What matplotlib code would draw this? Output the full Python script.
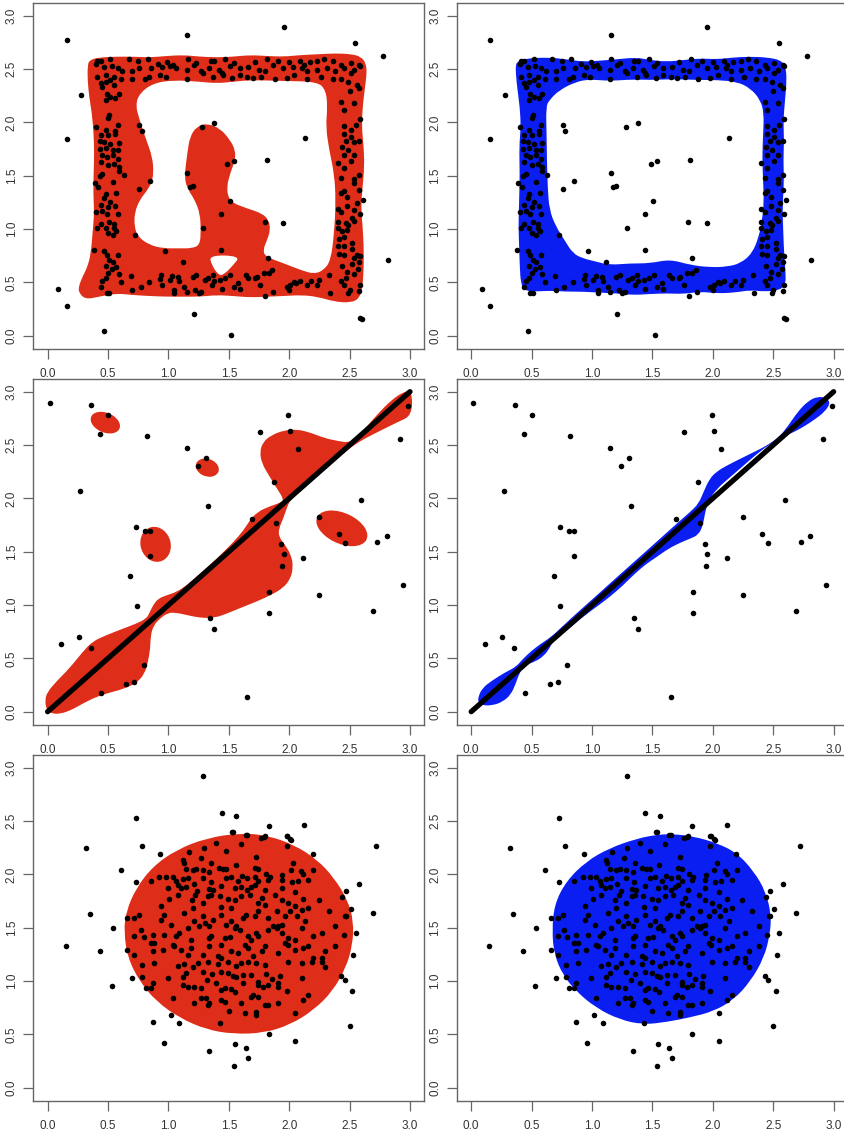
import numpy as np
import matplotlib
matplotlib.use("Agg")
import matplotlib.pyplot as plt
from matplotlib.path import Path
from matplotlib.patches import PathPatch, Ellipse

plt.rcParams['font.family'] = ['Liberation Sans', 'DejaVu Sans']

RED = '#DE2D18'
BLUE = '#0A1EF2'

tick_values = [0.0, 0.5, 1.0, 1.5, 2.0, 2.5, 3.0]
tick_labels = ['0.0', '0.5', '1.0', '1.5', '2.0', '2.5', '3.0']

# ---------------- Row 1 : square frame data ----------------
frame_outliers = [(0.158, 2.77), (1.158, 2.82), (1.955, 2.89), (2.547, 2.74), (2.78, 2.62),
                  (0.278, 2.26), (0.158, 1.84), (0.086, 0.44), (0.158, 0.28), (0.467, 0.04),
                  (1.208, 0.20), (1.519, 0.01), (2.586, 0.17), (2.605, 0.16), (2.815, 0.71),
                  (2.13, 1.85)]
frame_inner = [(0.758, 1.98), (0.778, 1.92), (1.278, 1.96), (1.378, 1.99), (1.489, 1.61),
               (1.539, 1.64), (1.815, 1.65), (1.158, 1.53), (0.847, 1.45), (0.758, 1.38),
               (1.175, 1.39), (1.2, 1.40), (1.507, 1.26), (1.438, 1.14), (1.796, 1.07),
               (1.949, 1.06), (1.288, 1.01), (0.969, 0.79), (1.438, 0.80), (1.826, 0.73),
               (0.727, 0.94), (1.119, 0.69)]
frame_top = [(0.41, 2.58), (0.44, 2.58), (0.52, 2.59), (0.67, 2.59), (0.75, 2.58), (0.83, 2.59),
             (0.91, 2.55), (0.99, 2.57), (1.04, 2.54), (1.16, 2.59), (1.23, 2.56), (1.35, 2.58),
             (1.38, 2.58), (1.47, 2.59), (1.54, 2.56), (1.72, 2.57), (1.82, 2.59), (1.91, 2.58),
             (2.00, 2.57), (2.09, 2.58), (2.12, 2.54), (2.17, 2.57), (2.23, 2.58), (2.29, 2.59),
             (2.36, 2.58), (2.43, 2.54), (2.51, 2.56), (2.58, 2.54),
             (0.40, 2.55), (0.47, 2.52), (0.53, 2.53), (0.58, 2.51), (0.62, 2.48), (0.70, 2.48),
             (0.76, 2.51), (0.86, 2.51), (0.95, 2.52), (1.01, 2.53), (1.06, 2.51), (1.15, 2.49),
             (1.21, 2.54), (1.27, 2.48), (1.34, 2.51), (1.42, 2.49), (1.44, 2.46), (1.51, 2.53),
             (1.59, 2.51), (1.66, 2.52), (1.75, 2.49), (1.80, 2.48), (1.87, 2.54), (1.95, 2.51),
             (2.03, 2.52), (2.11, 2.51), (2.15, 2.48), (2.23, 2.49), (2.31, 2.51), (2.38, 2.48),
             (2.45, 2.51), (2.54, 2.49), (2.59, 2.53),
             (0.41, 2.43), (0.48, 2.44), (0.55, 2.43), (0.61, 2.41), (0.70, 2.41), (0.81, 2.41),
             (0.84, 2.43), (0.93, 2.44), (0.98, 2.43), (1.15, 2.41), (1.29, 2.46), (1.37, 2.43),
             (1.45, 2.44), (1.53, 2.42), (1.59, 2.44), (1.65, 2.43), (1.70, 2.42), (1.77, 2.43),
             (1.88, 2.41), (1.98, 2.42), (2.04, 2.44), (2.15, 2.41), (2.26, 2.43), (2.36, 2.41),
             (2.43, 2.41), (2.51, 2.46)]
frame_left = [(0.44, 2.37), (0.45, 2.33), (0.48, 2.38), (0.52, 2.40), (0.55, 2.35), (0.49, 2.27),
              (0.52, 2.24), (0.56, 2.23), (0.59, 2.27), (0.48, 2.21), (0.51, 2.07), (0.50, 2.04),
              (0.58, 1.98), (0.40, 1.96), (0.48, 1.93), (0.56, 1.92),
              (0.44, 1.88), (0.50, 1.88), (0.56, 1.89), (0.43, 1.83), (0.47, 1.82), (0.52, 1.80),
              (0.59, 1.81), (0.43, 1.75), (0.48, 1.76), (0.54, 1.74), (0.58, 1.74), (0.45, 1.69),
              (0.49, 1.68), (0.54, 1.69), (0.58, 1.66), (0.44, 1.63), (0.50, 1.60), (0.55, 1.61),
              (0.59, 1.58), (0.45, 1.52), (0.43, 1.50), (0.59, 1.54), (0.63, 1.51), (0.54, 1.44),
              (0.39, 1.43), (0.42, 1.39), (0.48, 1.33), (0.57, 1.34), (0.47, 1.29), (0.52, 1.25),
              (0.44, 1.23), (0.50, 1.21), (0.56, 1.22), (0.40, 1.16), (0.45, 1.17), (0.49, 1.14),
              (0.58, 1.14), (0.51, 1.07), (0.44, 1.05), (0.55, 1.05),
              (0.41, 1.01), (0.48, 1.01), (0.55, 1.01), (0.50, 0.96), (0.54, 0.94), (0.57, 0.98),
              (0.38, 0.80), (0.47, 0.79), (0.49, 0.76), (0.58, 0.76), (0.51, 0.71), (0.54, 0.69),
              (0.48, 0.65), (0.53, 0.63), (0.57, 0.64), (0.50, 0.59), (0.59, 0.58), (0.69, 0.56),
              (0.48, 0.54), (0.45, 0.51), (0.61, 0.50), (0.44, 0.46), (0.49, 0.40), (0.51, 0.40)]
frame_right = [(2.49, 2.38), (2.56, 2.35), (2.58, 2.32), (2.50, 2.29), (2.43, 2.19), (2.54, 2.18),
               (2.45, 2.12), (2.59, 2.03), (2.55, 1.98), (2.45, 1.97), (2.51, 1.93),
               (2.45, 1.89), (2.51, 1.86), (2.47, 1.83), (2.54, 1.82), (2.58, 1.83), (2.44, 1.77),
               (2.49, 1.74), (2.54, 1.69), (2.45, 1.69), (2.51, 1.64), (2.40, 1.62), (2.45, 1.57),
               (2.58, 1.51), (2.43, 1.48), (2.54, 1.47), (2.54, 1.43), (2.45, 1.36), (2.43, 1.34),
               (2.58, 1.37), (2.48, 1.30), (2.61, 1.27), (2.56, 1.24), (2.48, 1.22), (2.40, 1.19),
               (2.43, 1.16), (2.54, 1.18), (2.59, 1.14), (2.52, 1.10), (2.40, 1.07), (2.47, 1.06),
               (2.54, 1.08), (2.49, 1.04),
               (2.40, 1.01), (2.44, 0.98), (2.48, 0.99), (2.41, 0.91), (2.45, 0.93), (2.52, 0.87),
               (2.40, 0.84), (2.45, 0.84), (2.52, 0.81), (2.41, 0.77), (2.45, 0.76), (2.56, 0.76),
               (2.59, 0.75), (2.54, 0.73), (2.58, 0.69), (2.52, 0.67), (2.44, 0.65), (2.57, 0.63),
               (2.48, 0.60), (2.54, 0.58), (2.33, 0.57), (2.47, 0.54), (2.43, 0.51), (2.45, 0.48),
               (2.59, 0.48), (2.50, 0.43), (2.58, 0.42), (2.34, 0.40), (2.49, 0.40)]
frame_bottom = [(0.70, 0.43), (0.77, 0.46), (0.84, 0.50), (0.94, 0.57), (0.93, 0.53), (0.95, 0.48),
                (1.01, 0.52), (1.03, 0.56), (1.05, 0.43), (1.05, 0.40), (1.08, 0.55), (1.09, 0.51),
                (1.13, 0.46), (1.15, 0.41), (1.20, 0.55), (1.22, 0.43), (1.23, 0.57), (1.25, 0.40),
                (1.27, 0.41), (1.30, 0.52), (1.33, 0.54), (1.36, 0.48), (1.37, 0.57), (1.38, 0.51),
                (1.43, 0.52), (1.44, 0.44), (1.47, 0.54), (1.51, 0.57), (1.54, 0.46), (1.58, 0.49),
                (1.59, 0.44), (1.64, 0.57), (1.66, 0.54), (1.72, 0.54), (1.73, 0.55), (1.76, 0.48),
                (1.79, 0.59), (1.80, 0.37), (1.83, 0.59), (1.86, 0.62), (1.87, 0.41), (1.98, 0.46),
                (2.00, 0.43), (2.01, 0.48), (2.04, 0.50), (2.06, 0.49), (2.09, 0.51), (2.15, 0.48),
                (2.18, 0.51), (2.23, 0.48), (2.25, 0.52)]

# Row 1 level-set outlines
red_frame_outer = [(0.344, 2.584), (0.428, 2.609), (0.567, 2.616), (0.706, 2.616), (0.844, 2.609),
                   (0.983, 2.622), (1.122, 2.631), (1.261, 2.616), (1.4, 2.609), (1.539, 2.616),
                   (1.678, 2.631), (1.817, 2.622), (1.956, 2.616), (2.094, 2.631), (2.233, 2.638),
                   (2.372, 2.647), (2.511, 2.641), (2.594, 2.616), (2.636, 2.553), (2.642, 2.459),
                   (2.628, 2.334), (2.608, 2.147), (2.6, 1.959), (2.617, 1.772), (2.622, 1.584),
                   (2.608, 1.397), (2.594, 1.209), (2.608, 1.022), (2.617, 0.834), (2.617, 0.647),
                   (2.608, 0.459), (2.581, 0.35), (2.511, 0.309), (2.372, 0.319), (2.233, 0.366),
                   (2.094, 0.381), (1.956, 0.372), (1.817, 0.366), (1.678, 0.359), (1.539, 0.372),
                   (1.4, 0.381), (1.261, 0.366), (1.122, 0.366), (0.983, 0.366), (0.844, 0.372),
                   (0.706, 0.381), (0.567, 0.397), (0.428, 0.366), (0.317, 0.341), (0.261, 0.397),
                   (0.256, 0.459), (0.289, 0.553), (0.331, 0.647), (0.358, 0.772), (0.372, 0.959),
                   (0.386, 1.147), (0.378, 1.334), (0.381, 1.522), (0.386, 1.709), (0.381, 1.897),
                   (0.367, 2.084), (0.344, 2.241), (0.331, 2.397), (0.331, 2.522)]
red_frame_hole = [(0.761, 2.272), (0.872, 2.366), (1.039, 2.397), (1.261, 2.381), (1.4, 2.366),
                  (1.539, 2.381), (1.678, 2.397), (1.956, 2.388), (2.233, 2.381), (2.303, 2.303),
                  (2.317, 2.147), (2.303, 1.959), (2.331, 1.741), (2.372, 1.522), (2.386, 1.272),
                  (2.372, 0.959), (2.344, 0.709), (2.289, 0.616), (2.206, 0.578), (2.094, 0.616),
                  (1.956, 0.678), (1.803, 0.741), (1.783, 0.803), (1.817, 0.897), (1.844, 0.991),
                  (1.831, 1.084), (1.775, 1.147), (1.65, 1.194), (1.539, 1.241), (1.497, 1.288),
                  (1.483, 1.397), (1.511, 1.522), (1.553, 1.647), (1.553, 1.741), (1.511, 1.834),
                  (1.428, 1.944), (1.317, 1.991), (1.233, 1.959), (1.178, 1.866), (1.156, 1.709),
                  (1.131, 1.475), (1.164, 1.366), (1.219, 1.272), (1.261, 1.147), (1.269, 0.991),
                  (1.261, 0.85), (1.192, 0.819), (1.094, 0.819), (0.956, 0.819), (0.844, 0.85),
                  (0.747, 0.928), (0.719, 1.022), (0.719, 1.147), (0.761, 1.272), (0.817, 1.35),
                  (0.858, 1.428), (0.878, 1.522), (0.867, 1.678), (0.817, 1.834), (0.761, 2.022),
                  (0.728, 2.163)]
red_frame_small_hole = [(1.339, 0.756), (1.594, 0.747), (1.539, 0.663), (1.456, 0.569),
                        (1.414, 0.569), (1.358, 0.663)]
blue_frame_outer = [(0.383, 2.569), (0.452, 2.6), (0.647, 2.609), (0.785, 2.591), (0.924, 2.569),
                    (1.063, 2.578), (1.202, 2.591), (1.368, 2.609), (1.479, 2.584), (1.618, 2.569),
                    (1.757, 2.584), (1.896, 2.6), (2.034, 2.591), (2.173, 2.609), (2.312, 2.616),
                    (2.451, 2.609), (2.562, 2.584), (2.603, 2.522), (2.612, 2.397), (2.598, 2.209),
                    (2.584, 2.022), (2.59, 1.834), (2.584, 1.647), (2.59, 1.428), (2.576, 1.209),
                    (2.584, 0.959), (2.59, 0.772), (2.603, 0.584), (2.603, 0.491), (2.562, 0.428),
                    (2.423, 0.413), (2.312, 0.428), (2.173, 0.403), (2.034, 0.397), (1.896, 0.413),
                    (1.757, 0.391), (1.618, 0.397), (1.479, 0.391), (1.341, 0.381), (1.202, 0.397),
                    (1.063, 0.403), (0.924, 0.413), (0.785, 0.413), (0.647, 0.422), (0.508, 0.413),
                    (0.439, 0.428), (0.411, 0.491), (0.402, 0.647), (0.397, 0.834), (0.391, 1.022),
                    (0.397, 1.272), (0.402, 1.522), (0.397, 1.772), (0.411, 1.959), (0.402, 2.147),
                    (0.383, 2.303), (0.369, 2.459), (0.369, 2.538)]
blue_frame_hole = [(0.619, 2.147), (0.647, 2.209), (0.73, 2.303), (0.869, 2.381), (0.98, 2.403),
                   (1.146, 2.388), (1.341, 2.403), (1.479, 2.397), (1.618, 2.403), (1.757, 2.403),
                   (1.896, 2.397), (2.034, 2.397), (2.201, 2.381), (2.312, 2.319), (2.395, 2.209),
                   (2.423, 2.084), (2.417, 1.897), (2.409, 1.678), (2.417, 1.428), (2.423, 1.272),
                   (2.409, 1.084), (2.381, 0.928), (2.326, 0.772), (2.229, 0.678), (2.118, 0.647),
                   (1.979, 0.641), (1.812, 0.663), (1.646, 0.716), (1.479, 0.678), (1.313, 0.678),
                   (1.146, 0.663), (1.035, 0.694), (0.924, 0.725), (0.841, 0.772), (0.772, 0.897),
                   (0.702, 1.022), (0.647, 1.178), (0.633, 1.397), (0.627, 1.647), (0.624, 1.897)]

# ---------------- Row 2 : diagonal data ----------------
diag_points = [(0.019, 2.89), (0.361, 2.878), (0.503, 2.784), (0.433, 2.60), (0.819, 2.584),
               (0.272, 2.066), (1.15, 2.475), (1.308, 2.378), (1.242, 2.303), (1.325, 1.931),
               (0.731, 1.734), (0.808, 1.694), (0.85, 1.697), (0.85, 1.456), (0.683, 1.275),
               (0.739, 0.994), (0.114, 0.631), (0.256, 0.697), (0.356, 0.597), (0.444, 0.175),
               (0.65, 0.256), (0.717, 0.275), (0.794, 0.441), (1.344, 0.875), (1.378, 0.778),
               (1.653, 0.134), (1.758, 2.622), (1.992, 2.781), (2.008, 2.631), (2.072, 2.466),
               (1.878, 2.156), (1.692, 1.803), (1.892, 1.769), (1.933, 1.569), (1.953, 1.478),
               (1.942, 1.3625), (2.114, 1.4375), (1.836, 1.119), (1.833, 0.928), (2.25, 1.828),
               (2.411, 1.6625), (2.461, 1.584), (2.594, 1.984), (2.728, 1.5875), (2.808, 1.65),
               (2.914, 2.556), (2.983, 2.8625), (2.939, 1.184), (2.692, 0.941), (2.247, 1.094)]
diag_line_x = [0.0, 3.0]
diag_line_y = [0.0, 3.0]
red_diag_band = [(-0.022, 0.106), (-0.003, 0.184), (0.081, 0.294), (0.178, 0.403), (0.289, 0.559),
                 (0.372, 0.659), (0.483, 0.716), (0.622, 0.778), (0.733, 0.825), (0.817, 0.872),
                 (0.844, 0.928), (0.872, 0.997), (0.914, 1.059), (0.983, 1.091), (1.067, 1.122),
                 (1.15, 1.184), (1.261, 1.294), (1.4, 1.434), (1.539, 1.591), (1.622, 1.70),
                 (1.664, 1.778), (1.733, 1.872), (1.844, 1.928), (1.928, 1.959), (1.956, 1.988),
                 (1.90, 2.09), (1.831, 2.216), (1.775, 2.325), (1.756, 2.434), (1.783, 2.528),
                 (1.85, 2.591), (1.956, 2.638), (2.067, 2.647), (2.178, 2.616), (2.289, 2.566),
                 (2.40, 2.538), (2.497, 2.522), (2.567, 2.575), (2.65, 2.684), (2.747, 2.809),
                 (2.844, 2.919), (2.942, 2.997), (3.017, 3.012), (3.017, 2.778), (2.90, 2.716),
                 (2.761, 2.638), (2.622, 2.559), (2.525, 2.491), (2.428, 2.403), (2.317, 2.294),
                 (2.206, 2.184), (2.094, 2.075), (2.006, 1.981), (1.978, 1.903), (1.95, 1.809),
                 (1.914, 1.716), (1.914, 1.638), (1.969, 1.559), (2.017, 1.466), (2.033, 1.356),
                 (2.011, 1.247), (1.95, 1.159), (1.844, 1.091), (1.733, 1.034), (1.594, 0.972),
                 (1.483, 0.919), (1.386, 0.881), (1.275, 0.878), (1.164, 0.903), (1.067, 0.928),
                 (0.997, 0.928), (0.928, 0.872), (0.878, 0.809), (0.853, 0.716), (0.85, 0.591),
                 (0.831, 0.466), (0.803, 0.356), (0.739, 0.272), (0.636, 0.216), (0.511, 0.178),
                 (0.40, 0.138), (0.289, 0.075), (0.192, 0.013), (0.108, -0.019), (0.039, -0.019),
                 (-0.008, 0.013)]
# islands: (center x, center y, width, height, angle)
red_diag_islands = [(0.478, 2.71, 0.26, 0.18, -30), (1.322, 2.288, 0.20, 0.16, -30),
                    (0.894, 1.569, 0.25, 0.33, 10), (2.436, 1.719, 0.46, 0.28, -30)]
blue_diag_band = [(0.058, 0.138), (0.092, 0.222), (0.175, 0.294), (0.286, 0.372), (0.369, 0.419),
                  (0.425, 0.491), (0.494, 0.566), (0.577, 0.638), (0.661, 0.70), (0.758, 0.803),
                  (0.869, 0.919), (1.008, 1.059), (1.146, 1.20), (1.285, 1.341), (1.424, 1.481),
                  (1.563, 1.622), (1.701, 1.763), (1.812, 1.872), (1.882, 1.95), (1.923, 2.059),
                  (1.973, 2.184), (2.034, 2.253), (2.118, 2.309), (2.229, 2.372), (2.34, 2.434),
                  (2.451, 2.497), (2.548, 2.575), (2.617, 2.669), (2.701, 2.809), (2.784, 2.909),
                  (2.867, 2.956), (2.945, 2.941), (2.973, 2.888), (2.923, 2.809), (2.853, 2.747),
                  (2.77, 2.684), (2.673, 2.622), (2.576, 2.575), (2.479, 2.513), (2.367, 2.419),
                  (2.256, 2.309), (2.145, 2.20), (2.034, 2.091), (1.965, 1.981), (1.937, 1.872),
                  (1.918, 1.747), (1.882, 1.659), (1.812, 1.622), (1.729, 1.584), (1.632, 1.528),
                  (1.535, 1.45), (1.452, 1.388), (1.354, 1.294), (1.257, 1.184), (1.146, 1.075),
                  (1.035, 0.981), (0.924, 0.888), (0.827, 0.794), (0.758, 0.731), (0.688, 0.684),
                  (0.647, 0.591), (0.605, 0.528), (0.536, 0.472), (0.439, 0.434), (0.397, 0.356),
                  (0.369, 0.263), (0.328, 0.159), (0.258, 0.091), (0.175, 0.059), (0.092, 0.059),
                  (0.058, 0.091)]

# ---------------- Row 3 : disk data ----------------
disk_outliers = [(1.29, 2.92), (1.44, 2.58), (1.56, 2.55), (0.73, 2.53), (0.32, 2.25), (0.78, 2.27),
                 (0.93, 2.19), (0.61, 2.04), (0.73, 1.93), (0.35, 1.63), (0.54, 1.50), (0.15, 1.33),
                 (0.43, 1.28), (0.53, 0.95), (0.70, 1.03), (0.87, 0.62), (0.96, 0.42), (1.02, 0.68),
                 (1.09, 0.61), (1.34, 0.34), (1.43, 0.61), (1.55, 0.41), (1.64, 0.37), (1.66, 0.28),
                 (1.54, 0.20), (1.83, 0.50), (2.05, 0.44), (2.50, 0.58), (2.52, 0.91), (2.46, 1.01),
                 (2.43, 1.05), (2.53, 1.24), (2.55, 1.45), (2.69, 1.64), (2.58, 1.91), (2.72, 2.27),
                 (2.12, 2.46), (1.83, 2.45), (1.98, 2.36), (2.01, 2.33), (1.53, 2.40), (1.79, 2.35),
                 (1.64, 2.37), (2.47, 1.84), (2.51, 1.68), (2.47, 1.61)]
disk_upper = [(1.535, 2.40), (1.651, 2.369), (1.765, 2.344), (1.798, 2.36), (1.984, 2.36), (2.015, 2.322),
              (1.168, 2.213), (1.293, 2.25), (1.396, 2.297), (1.479, 2.219), (1.604, 2.285), (1.729, 2.16),
              (1.979, 2.269), (2.034, 2.104), (2.195, 2.188), (2.201, 2.041), (1.118, 2.135), (1.127, 2.104),
              (1.266, 2.15), (1.354, 2.104), (1.146, 2.05), (1.202, 2.041), (1.23, 2.047), (1.285, 2.041),
              (1.34, 2.025), (1.418, 2.057), (1.451, 2.047), (1.479, 2.047), (1.557, 2.088), (1.715, 2.057),
              (1.743, 2.05), (1.804, 2.0), (1.84, 1.979), (1.943, 1.994), (2.012, 2.041), (2.098, 2.032),
              (2.118, 2.004), (0.855, 1.938), (0.924, 1.979), (0.98, 1.979), (1.035, 1.979), (1.063, 1.938),
              (1.118, 1.957), (1.16, 1.969), (1.285, 1.963), (1.349, 1.932), (1.479, 1.969), (1.521, 1.979),
              (1.576, 1.938), (1.61, 1.985), (1.654, 1.963), (1.715, 1.979), (1.743, 1.938), (1.826, 1.947),
              (1.937, 1.947), (2.021, 1.932), (2.07, 1.938), (2.159, 1.947), (0.994, 1.869), (1.077, 1.90),
              (1.105, 1.869), (1.146, 1.885), (1.21, 1.907), (1.238, 1.844), (1.332, 1.863), (1.368, 1.854),
              (1.438, 1.894), (1.549, 1.869), (1.604, 1.885), (1.654, 1.854), (1.687, 1.885), (1.715, 1.90),
              (1.798, 1.854), (1.937, 1.869), (2.048, 1.838)]
disk_middle = [(0.938, 1.70), (1.007, 1.769), (1.077, 1.809), (1.193, 1.763), (1.221, 1.809), (1.285, 1.731),
               (1.327, 1.794), (1.354, 1.809), (1.424, 1.794), (1.432, 1.694), (1.493, 1.769), (1.521, 1.684),
               (1.549, 1.763), (1.604, 1.794), (1.674, 1.809), (1.743, 1.731), (1.771, 1.778), (1.798, 1.716),
               (1.882, 1.809), (1.937, 1.763), (1.993, 1.731), (2.048, 1.70), (2.118, 1.769), (2.159, 1.684),
               (2.243, 1.763), (2.326, 1.653), (2.437, 1.788), (2.465, 1.606), (0.66, 1.591), (0.716, 1.591),
               (0.758, 1.622), (0.938, 1.575), (0.966, 1.622), (1.021, 1.528), (1.132, 1.638), (1.202, 1.684),
               (1.216, 1.559), (1.285, 1.606), (1.299, 1.544), (1.34, 1.513), (1.368, 1.575), (1.438, 1.622),
               (1.479, 1.528), (1.521, 1.559), (1.563, 1.513), (1.618, 1.591), (1.646, 1.622), (1.715, 1.606),
               (1.743, 1.653), (1.826, 1.591), (1.896, 1.653), (1.965, 1.606), (2.007, 1.653), (2.062, 1.606),
               (2.104, 1.669), (2.132, 1.559), (1.909, 1.513), (1.937, 1.528), (1.868, 1.519), (0.772, 1.481),
               (0.716, 1.419), (0.794, 1.413), (0.869, 1.434), (0.883, 1.356), (0.855, 1.356), (0.966, 1.434),
               (1.063, 1.419), (1.091, 1.45), (1.16, 1.497), (1.188, 1.388), (1.257, 1.513), (1.34, 1.403),
               (1.354, 1.419), (1.438, 1.341), (1.465, 1.403), (1.507, 1.413), (1.549, 1.497), (1.59, 1.481),
               (1.66, 1.419), (1.687, 1.388), (1.729, 1.45), (1.743, 1.419), (1.826, 1.481), (1.896, 1.497),
               (1.937, 1.45), (1.993, 1.403), (1.987, 1.341), (2.048, 1.388), (2.104, 1.497), (2.201, 1.425),
               (2.27, 1.45), (2.381, 1.513), (2.451, 1.434), (2.381, 1.325), (2.298, 1.278), (2.159, 1.325),
               (0.66, 1.294), (0.716, 1.247), (0.869, 1.278), (0.952, 1.294), (1.035, 1.341), (1.049, 1.325),
               (1.105, 1.294), (1.16, 1.247), (1.188, 1.309), (1.285, 1.247), (1.34, 1.325), (1.41, 1.231),
               (1.438, 1.216), (1.521, 1.278), (1.576, 1.263), (1.632, 1.341), (1.66, 1.309), (1.701, 1.231),
               (1.771, 1.278), (1.798, 1.325), (1.909, 1.263), (1.965, 1.356), (2.048, 1.294), (2.118, 1.309),
               (2.201, 1.216), (2.27, 1.216)]
disk_lower = [(0.785, 1.15), (0.883, 1.166), (1.077, 1.141), (1.132, 1.16), (1.202, 1.128), (1.243, 1.172),
              (1.327, 1.181), (1.41, 1.16), (1.493, 1.181), (1.563, 1.141), (1.604, 1.172), (1.66, 1.181),
              (1.729, 1.172), (1.798, 1.15), (1.993, 1.181), (2.104, 1.172), (2.187, 1.181), (2.27, 1.181),
              (2.298, 1.128), (0.785, 1.034), (0.994, 1.025), (1.118, 1.041), (1.146, 1.072), (1.285, 1.088),
              (1.36, 1.066), (1.438, 1.088), (1.493, 1.072), (1.535, 1.047), (1.563, 1.034), (1.618, 1.056),
              (1.687, 1.056), (1.743, 0.994), (1.804, 1.066), (1.854, 1.016), (1.909, 0.978), (1.923, 1.047),
              (2.104, 1.025), (0.813, 0.931), (0.855, 0.931), (0.869, 0.978), (1.118, 0.963), (1.16, 0.941),
              (1.216, 0.947), (1.271, 0.931), (1.321, 1.009), (1.396, 0.984), (1.438, 0.916), (1.465, 0.931),
              (1.521, 0.922), (1.554, 0.90), (1.618, 0.978), (1.701, 0.869), (1.743, 0.963), (1.785, 0.947),
              (1.826, 0.963), (1.909, 0.947), (1.979, 0.909), (2.159, 0.869), (1.035, 0.838), (1.216, 0.791),
              (1.271, 0.838), (1.313, 0.838), (1.34, 0.791), (1.438, 0.822), (1.465, 0.806), (1.604, 0.791),
              (1.687, 0.853), (1.743, 0.847), (1.798, 0.775), (1.826, 0.775), (1.909, 0.791), (2.118, 0.822),
              (1.327, 0.775), (1.499, 0.719), (1.632, 0.697), (1.729, 0.713), (1.729, 0.681), (2.048, 0.703)]
red_disk = [(1.594, 2.3875), (1.817, 2.366), (2.039, 2.278), (2.233, 2.1375), (2.372, 1.966),
            (2.483, 1.7625), (2.533, 1.559), (2.525, 1.341), (2.469, 1.122), (2.358, 0.903),
            (2.206, 0.731), (2.011, 0.591), (1.789, 0.5125), (1.539, 0.503), (1.317, 0.544),
            (1.094, 0.653), (0.90, 0.809), (0.761, 0.997), (0.664, 1.216), (0.631, 1.466),
            (0.65, 1.653), (0.733, 1.872), (0.872, 2.075), (1.067, 2.231), (1.317, 2.341)]
blue_disk = [(1.674, 2.378), (1.84, 2.356), (2.034, 2.294), (2.201, 2.20), (2.34, 2.028),
             (2.437, 1.841), (2.484, 1.622), (2.473, 1.434), (2.423, 1.216), (2.312, 0.997),
             (2.173, 0.825), (2.007, 0.716), (1.812, 0.659), (1.618, 0.616), (1.424, 0.591),
             (1.23, 0.638), (1.035, 0.747), (0.869, 0.903), (0.758, 1.059), (0.688, 1.247),
             (0.669, 1.466), (0.688, 1.716), (0.785, 1.934), (0.952, 2.122), (1.146, 2.247),
             (1.368, 2.334), (1.535, 2.372)]


# ---------------- helpers ----------------
def ring(pts, ccw=True):
    P = np.asarray(pts, float)
    area = 0.5 * np.sum(P[:, 0] * np.roll(P[:, 1], -1) - np.roll(P[:, 0], -1) * P[:, 1])
    if (area > 0) != ccw:
        P = P[::-1]
    mids = (P + np.roll(P, -1, axis=0)) / 2.0
    verts = [mids[-1]]
    codes = [Path.MOVETO]
    for i in range(len(P)):
        verts += [P[i], mids[i]]
        codes += [Path.CURVE3, Path.CURVE3]
    verts.append(mids[-1])
    codes.append(Path.CLOSEPOLY)
    return verts, codes


def region(outer, holes=()):
    v, c = ring(outer, True)
    for h in holes:
        hv, hc = ring(h, False)
        v += hv
        c += hc
    return Path(np.array(v), c)


def setup(ax):
    ax.set_xlim(-0.12, 3.12)
    ax.set_ylim(-0.12, 3.12)
    ax.set_xticks(tick_values)
    ax.set_yticks(tick_values)
    ax.set_xticklabels(tick_labels)
    ax.set_yticklabels(tick_labels, rotation=90, va='center')
    ax.tick_params(direction='out', length=7, width=0.9, color='#666666',
                   labelsize=8.5, labelcolor='#333333')
    ax.tick_params(axis='x', pad=7)
    ax.tick_params(axis='y', pad=4)
    for s in ax.spines.values():
        s.set_color('#666666')
        s.set_linewidth(1.0)


def scatter(ax, *groups):
    pts = np.array([p for g in groups for p in g])
    ax.scatter(pts[:, 0], pts[:, 1], s=16, c='black', linewidths=0, zorder=5)


W, H = 845, 1130
fig = plt.figure(figsize=(W / 100, H / 100), dpi=100)
lefts = [33.1 / W, 456.7 / W]
width = 391.4 / W
bottoms = [1 - 348.5 / H, 1 - 724.5 / H, 1 - 1100.5 / H]
height = 345.6 / H
axes = [[fig.add_axes([l, b, width, height]) for l in lefts] for b in bottoms]

# Row 1
ax = axes[0][0]
ax.add_patch(PathPatch(region(red_frame_outer, [red_frame_hole, red_frame_small_hole]),
                       facecolor=RED, edgecolor='none', zorder=1))
scatter(ax, frame_outliers, frame_inner, frame_top, frame_left, frame_right, frame_bottom)
ax = axes[0][1]
ax.add_patch(PathPatch(region(blue_frame_outer, [blue_frame_hole]),
                       facecolor=BLUE, edgecolor='none', zorder=1))
scatter(ax, frame_outliers, frame_inner, frame_top, frame_left, frame_right, frame_bottom)

# Row 2
ax = axes[1][0]
ax.add_patch(PathPatch(region(red_diag_band), facecolor=RED, edgecolor='none', zorder=1))
for cx, cy, w, h, a in red_diag_islands:
    ax.add_patch(Ellipse((cx, cy), w, h, angle=a, facecolor=RED, edgecolor='none', zorder=1))
ax.plot(diag_line_x, diag_line_y, color='black', lw=3.8, solid_capstyle='round', zorder=4)
scatter(ax, diag_points)
ax = axes[1][1]
ax.add_patch(PathPatch(region(blue_diag_band), facecolor=BLUE, edgecolor='none', zorder=1))
ax.plot(diag_line_x, diag_line_y, color='black', lw=3.8, solid_capstyle='round', zorder=4)
scatter(ax, diag_points)

# Row 3
ax = axes[2][0]
ax.add_patch(PathPatch(region(red_disk), facecolor=RED, edgecolor='none', zorder=1))
scatter(ax, disk_outliers, disk_upper, disk_middle, disk_lower)
ax = axes[2][1]
ax.add_patch(PathPatch(region(blue_disk), facecolor=BLUE, edgecolor='none', zorder=1))
scatter(ax, disk_outliers, disk_upper, disk_middle, disk_lower)

for row in axes:
    for ax in row:
        setup(ax)

fig.savefig('out.png', dpi=100)
